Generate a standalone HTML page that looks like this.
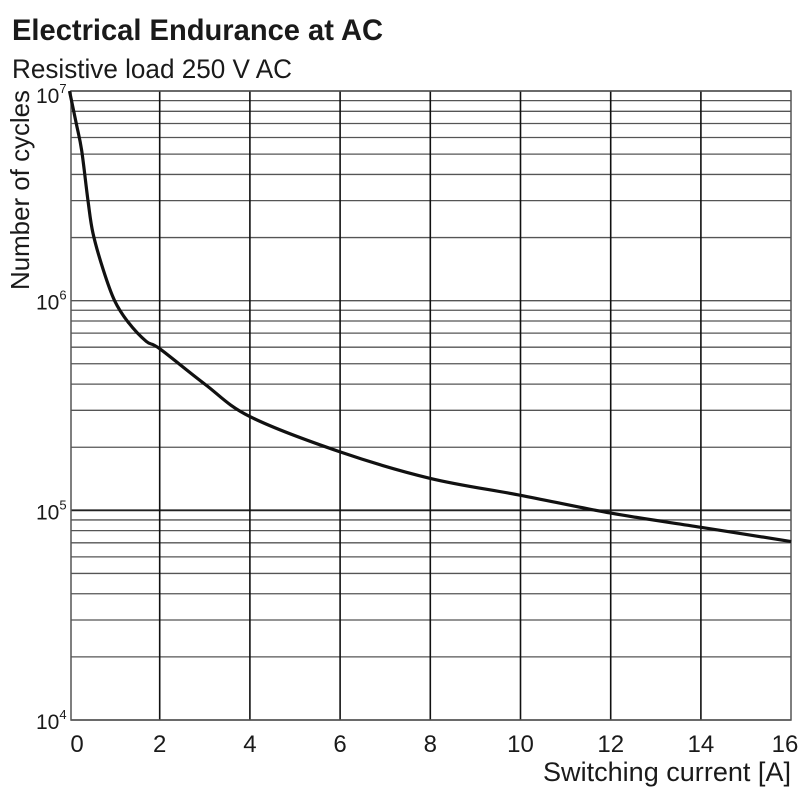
<!DOCTYPE html>
<html><head><meta charset="utf-8"><style>
html,body{margin:0;padding:0;background:#fff;}
svg{display:block;font-family:"Liberation Sans Narrow","Liberation Sans",sans-serif;}
</style></head><body>
<svg id="chart" width="800" height="800" viewBox="0 0 800 800">
<text x="12" y="40" font-size="30" font-weight="bold" fill="#1a1a1a" textLength="371" lengthAdjust="spacingAndGlyphs">Electrical Endurance at AC</text>
<text x="12" y="78" font-size="27" fill="#1a1a1a" textLength="280" lengthAdjust="spacingAndGlyphs">Resistive load 250 V AC</text>
<g id="grid"></g>
<g id="ticks"></g>
<path id="curve" fill="none" stroke="#111" stroke-width="3.2"/>
<text transform="translate(29,290) rotate(-90)" font-size="26" fill="#1a1a1a" textLength="200" lengthAdjust="spacingAndGlyphs">Number of cycles</text>
<text x="543" y="781" font-size="27" fill="#1a1a1a" textLength="248" lengthAdjust="spacingAndGlyphs">Switching current [A]</text>
</svg>
<script>
const xTicks = [0,2,4,6,8,10,12,14,16];
const yDecades = [4,5,6,7];
const currents = [0,0.15,0.27,0.41,0.52,0.75,1,1.3,1.7,2,3,4,6,8,10,12,14,16];
const cycles = [1e7,7.0e6,5.2e6,3.0e6,2.1e6,1.4e6,1.0e6,7.9e5,6.4e5,5.9e5,4.0e5,2.8e5,1.9e5,1.42e5,1.18e5,9.7e4,8.3e4,7.1e4];

const L=71,R=791,T=91,B=720;
const xs=v=>69.5+v*45.1;
const ys=v=>B-(Math.log10(v)-4)*(B-T)/3;
const NS="http://www.w3.org/2000/svg";
const grid=document.getElementById('grid'),ticks=document.getElementById('ticks');
function ln(x1,y1,x2,y2,w,c){const l=document.createElementNS(NS,'line');l.setAttribute('x1',x1);l.setAttribute('y1',y1);l.setAttribute('x2',x2);l.setAttribute('y2',y2);l.setAttribute('stroke',c);l.setAttribute('stroke-width',w);return l;}
for(let d=4;d<7;d++){for(let m=2;m<=9;m++){const y=ys(m*Math.pow(10,d));const l=ln(L,y,R,y,1.3,'#555');


grid.appendChild(l);}}
yDecades.forEach(d=>{const y=ys(Math.pow(10,d));const l=ln(L,y,R,y,d===5?1.9:1.4,d===5?'#222':'#555');


grid.appendChild(l);
const t=document.createElementNS(NS,'text');t.setAttribute('x',36);t.setAttribute('y',y+(d===7?12:9));t.setAttribute('font-size','21');t.setAttribute('fill','#1a1a1a');
t.innerHTML='10<tspan font-size="13" dy="-10">'+d+'</tspan>';


ticks.appendChild(t);});
xTicks.forEach(v=>{const x=xs(v);if(v>0&&v<16){const l=ln(x,T,x,B,1.6,'#111');


grid.appendChild(l);}
const t=document.createElementNS(NS,'text');t.setAttribute('x',v===0?77:(v===16?785:x));t.setAttribute('y',752);t.setAttribute('font-size','24');t.setAttribute('text-anchor','middle');t.setAttribute('fill','#1a1a1a');t.textContent=v;


ticks.appendChild(t);});
const fr=document.createElementNS(NS,'rect');fr.setAttribute('x',L);fr.setAttribute('y',T);fr.setAttribute('width',R-L);fr.setAttribute('height',B-T);fr.setAttribute('fill','none');fr.setAttribute('stroke','#555');fr.setAttribute('stroke-width','1.5');


grid.appendChild(fr);
const P=currents.map((c,i)=>[xs(c),ys(cycles[i])]);
let d='M'+P[0][0]+','+P[0][1];
for(let i=0;i<P.length-1;i++){const p0=P[Math.max(0,i-1)],p1=P[i],p2=P[i+1],p3=P[Math.min(P.length-1,i+2)];
const c1=[p1[0]+(p2[0]-p0[0])/6,p1[1]+(p2[1]-p0[1])/6],c2=[p2[0]-(p3[0]-p1[0])/6,p2[1]-(p3[1]-p1[1])/6];
d+=' C'+c1+' '+c2+' '+p2;}
document.getElementById('curve').setAttribute('d',d);
</script>
</body></html>
